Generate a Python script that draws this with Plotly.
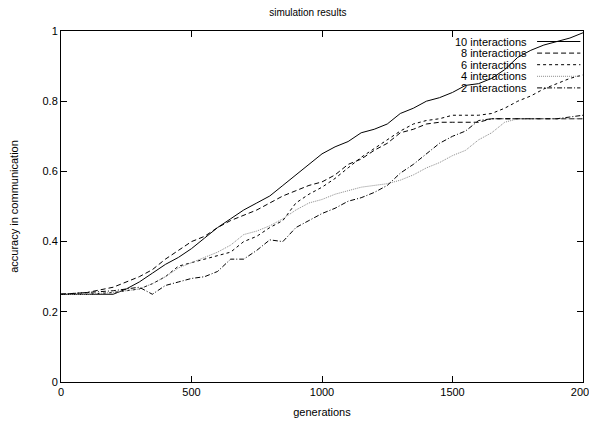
import plotly.graph_objects as go

generations = [0, 100, 200, 250, 300, 350, 400, 450, 500, 550, 600, 650, 700, 750,
               800, 850, 900, 950, 1000, 1050, 1100, 1150, 1200, 1250, 1300, 1350,
               1400, 1450, 1500, 1550, 1600, 1650, 1700, 1750, 1800, 1850, 1900,
               1950, 2000]

acc_10 = [.25, .25, .25, .265, .285, .31, .335, .355, .38, .41, .44, .465, .49, .51,
          .53, .56, .59, .62, .65, .67, .685, .71, .72, .735, .765, .78, .80, .81,
          .825, .845, .85, .865, .89, .925, .945, .96, .97, .98, .995]

acc_8 = [.25, .255, .27, .285, .30, .32, .35, .375, .40, .415, .44, .46, .475, .49,
         .51, .53, .545, .56, .57, .59, .62, .635, .66, .68, .71, .72, .735, .74,
         .74, .74, .74, .75, .75, .75, .75, .75, .75, .75, .75]

acc_6 = [.25, .25, .255, .26, .265, .28, .30, .33, .34, .35, .36, .37, .40, .415,
         .44, .46, .51, .535, .555, .58, .61, .64, .665, .69, .715, .735, .745, .75,
         .76, .76, .76, .765, .78, .80, .815, .835, .85, .865, .875]

acc_4 = [.25, .25, .255, .26, .265, .28, .30, .325, .34, .355, .37, .39, .42, .43,
         .445, .465, .49, .51, .52, .535, .545, .555, .56, .565, .575, .59, .61,
         .625, .645, .66, .69, .71, .74, .75, .75, .75, .75, .75, .75]

acc_2 = [.25, .255, .26, .265, .27, .25, .275, .285, .295, .30, .315, .35, .35, .375,
         .405, .40, .44, .46, .48, .495, .515, .525, .54, .56, .595, .62, .65, .68,
         .70, .715, .745, .75, .75, .75, .75, .752, .75, .755, .76]

series_names = ["10 interactions", "8 interactions", "6 interactions",
                "4 interactions", "2 interactions"]
series_values = [acc_10, acc_8, acc_6, acc_4, acc_2]
series_colors = ["#000000", "#000000", "#000000", "#8a8a8a", "#000000"]
series_dashes = ["solid", "5px,3px", "3px,3px", "1px,1px", "5px,2px,1px,2px"]

x_ticks = [0, 500, 1000, 1500, 2000]
y_ticks = [0, 0.2, 0.4, 0.6, 0.8, 1]

FONT = "Liberation Sans, Arial, Helvetica, sans-serif"

fig = go.Figure()
for name, vals, col, dash in zip(series_names, series_values, series_colors, series_dashes):
    fig.add_trace(go.Scatter(x=generations, y=vals, mode="lines", name=name,
                             line=dict(color=col, width=1, dash=dash),
                             showlegend=False, hoverinfo="skip"))

# gnuplot-style key: right-aligned text with line sample to its right
for i, (name, col, dash) in enumerate(zip(series_names, series_colors, series_dashes)):
    yk = 1 - (10.5 + i * 11.6) / 351.0
    fig.add_annotation(xref="paper", yref="paper", x=0.897, y=yk, text=name,
                       showarrow=False, xanchor="right", yanchor="middle",
                       font=dict(family=FONT, size=11, color="#000"))
    fig.add_shape(type="line", xref="paper", yref="paper", x0=0.912, x1=0.995,
                  y0=yk, y1=yk, line=dict(color=col, width=1, dash=dash))

axis_common = dict(showline=True, linecolor="black", linewidth=1, mirror="allticks",
                   ticks="inside", ticklen=6, tickcolor="black", tickwidth=1,
                   showgrid=False, zeroline=False, automargin=False,
                   tickfont=dict(family=FONT, size=11, color="#000"))

fig.update_layout(
    width=589, height=415,
    margin=dict(l=53, r=14, t=23, b=41),
    paper_bgcolor="white", plot_bgcolor="white",
    title=dict(text="simulation results", x=0.509, xanchor="center", y=0.989,
               yanchor="middle", font=dict(family=FONT, size=10, color="#000")),
    xaxis=dict(range=[0, 2000], tickvals=x_ticks, ticktext=[str(v) for v in x_ticks],
               title=dict(text="generations", standoff=11,
                          font=dict(family=FONT, size=11, color="#000")),
               **axis_common),
    yaxis=dict(range=[0, 1], tickvals=y_ticks,
               ticktext=["0", "0.2", "0.4", "0.6", "0.8", "1"],
               title=dict(text="accuracy in communication", standoff=24,
                          font=dict(family=FONT, size=11, color="#000")),
               **axis_common),
)

fig.write_html("out.html")
